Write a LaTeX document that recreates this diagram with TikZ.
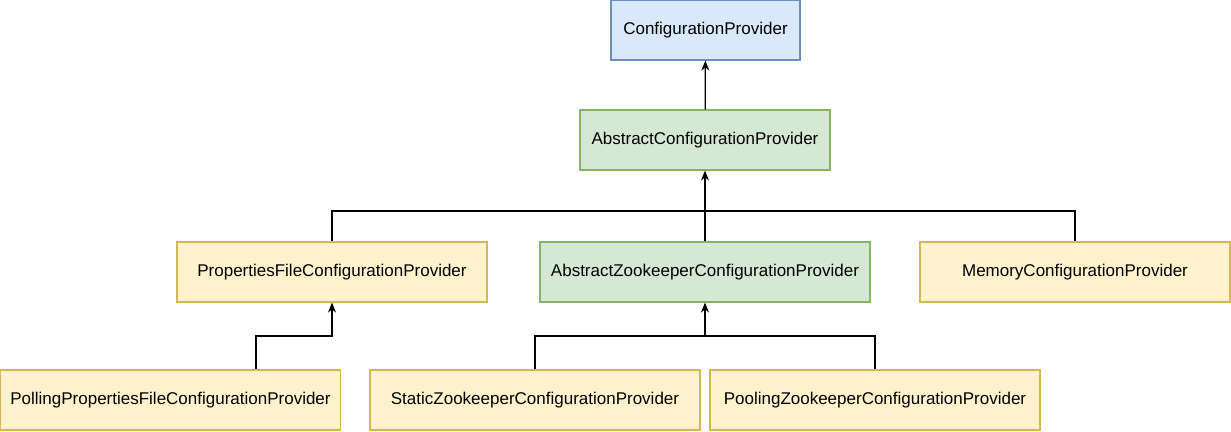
\documentclass[tikz,border=0pt]{standalone}
\usepackage{fontspec}
\setmainfont{Liberation Sans}
\usetikzlibrary{arrows.meta}
\definecolor{ifaceFill}{HTML}{DAE8FC}
\definecolor{ifaceLine}{HTML}{6C8EBF}
\definecolor{abstFill}{HTML}{D5E8D4}
\definecolor{abstLine}{HTML}{82B366}
\definecolor{implFill}{HTML}{FFF2CC}
\definecolor{implLine}{HTML}{D6B656}

\begin{document}
\begin{tikzpicture}[x=1pt, y=-1pt,
    cls/.style={draw, minimum height=60pt, inner sep=0pt, line width=1.2pt, font=\fontsize{17}{20}\selectfont},
    iface/.style={cls, fill=ifaceFill, draw=ifaceLine},
    abst/.style={cls, fill=abstFill, draw=abstLine},
    impl/.style={cls, fill=implFill, draw=implLine},
    arr/.style={-{Stealth[length=10pt, width=8pt]}, line width=1.2pt},
    bus/.style={line width=1.2pt}
]
\useasboundingbox (0,0) rectangle (1231,431);

\node[iface, minimum width=189pt] (cp) at (705.5,30) {ConfigurationProvider};
\node[abst, minimum width=250pt] (acp) at (705,140) {AbstractConfigurationProvider};
\node[impl, minimum width=310pt] (pfcp) at (332,272) {PropertiesFileConfigurationProvider};
\node[abst, minimum width=330pt] (azcp) at (705,272) {AbstractZookeeperConfigurationProvider};
\node[impl, minimum width=310pt] (mcp) at (1075,272) {MemoryConfigurationProvider};
\node[impl, minimum width=340pt] (ppfcp) at (170.5,400) {PollingPropertiesFileConfigurationProvider};
\node[impl, minimum width=330pt] (szcp) at (535,400) {StaticZookeeperConfigurationProvider};
\node[impl, minimum width=330pt] (pzcp) at (875,400) {PoolingZookeeperConfigurationProvider};

% joints of the tree lines
\coordinate (top) at (705,211);
\coordinate (left) at (332,336);
\coordinate (mid) at (705,336);

\draw[arr] (acp) -- (cp);
\draw[arr] (azcp) -- (acp);
\draw[bus] (pfcp.north) |- (top) -| (mcp.north);
\draw[arr] ([xshift=85.5pt]ppfcp.north) |- (left) -- (pfcp.south);
\draw[arr] (szcp.north) |- (mid) -- (azcp.south);
\draw[bus] (pzcp.north) |- (mid);
\end{tikzpicture}
\end{document}
